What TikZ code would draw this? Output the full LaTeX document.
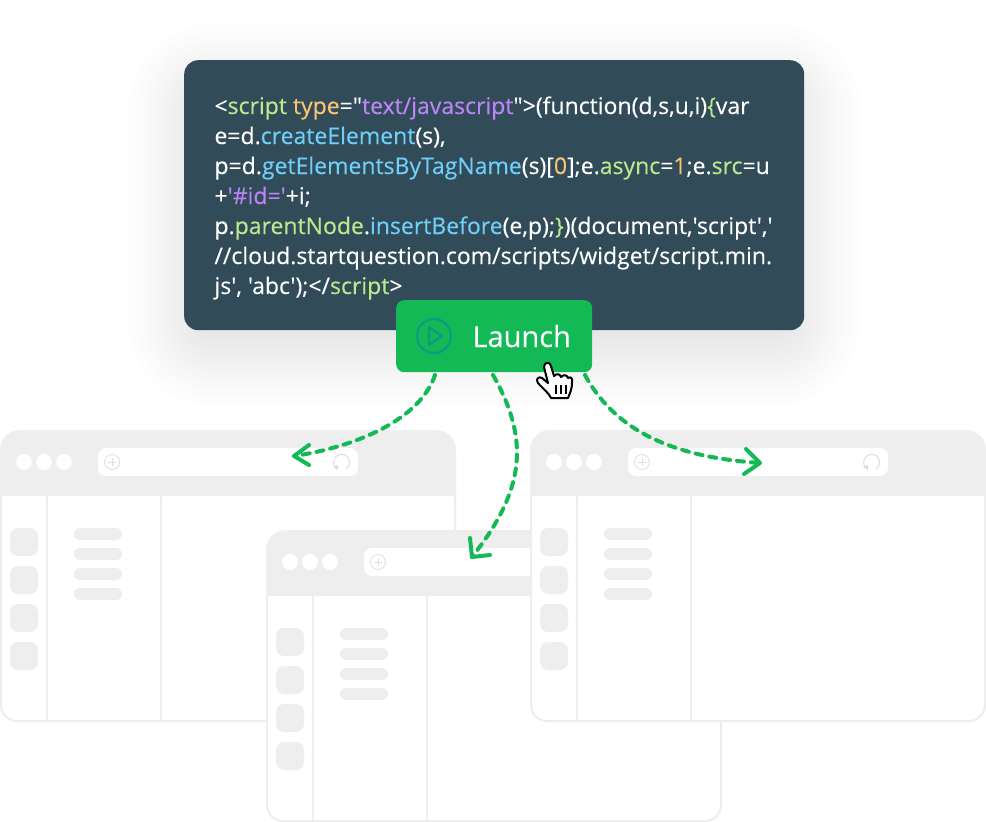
\documentclass[tikz,border=0pt]{standalone}
\usepackage{fontspec}
\setmainfont{Open Sans}
\newfontfamily\codefont[FakeBold=0.2]{Open Sans}
\usetikzlibrary{arrows.meta,calc}
\definecolor{panel}{HTML}{324B59}
\definecolor{gbtn}{HTML}{12B955}
\definecolor{ticon}{HTML}{0E9A82}
\definecolor{wgrey}{HTML}{EEEEEE}
\definecolor{iconline}{HTML}{DDDDDD}
\definecolor{cg}{HTML}{BBEA8E}
\definecolor{co}{HTML}{FBC472}
\definecolor{cp}{HTML}{BB85F5}
\definecolor{cb}{HTML}{70CFF8}
\tikzset{
  x=1pt,y=-1pt,
  code/.style={anchor=base west,inner sep=0pt,outer sep=0pt,text=white,font=\codefont\fontsize{23}{23}\selectfont},
  flow/.style={draw=gbtn,line width=4pt,dash pattern=on 7pt off 7pt,line cap=round},
  heads/.style={draw=gbtn,line width=4pt,line cap=round,line join=round},
  wline/.style={draw=wgrey,line width=2pt},
  wfill/.style={fill=wgrey,draw=none},
  lbl/.style={inner sep=0pt,outer sep=0pt}
}
\newcommand{\browser}[3]{% x, y, name
  \begin{scope}[shift={(#1,#2)}]
    \fill[white,rounded corners=18pt] (1,1) rectangle (455,291);
    \path[wfill,rounded corners=20pt] (0,66) -- (0,0) -- (456,0) -- (456,66);
    \path[wfill] (0,40) rectangle (456,66);
    \draw[wline,rounded corners=16pt] (1,60) -- (1,291) -- (455,291) -- (455,60);
    \draw[wline] (47,66) -- (47,291);
    \draw[wline] (161,66) -- (161,291);
    \foreach \dx in {24,44,64}{\fill[white] (\dx,32) circle[radius=8];}
    \fill[white,rounded corners=8pt] (98,18) rectangle (358,46);
    \draw[iconline,line width=.8pt] (112,32) circle[radius=7.5];
    \draw[iconline,line width=.9pt] (108,32) -- (116,32) (112,28) -- (112,36);
    \draw[iconline,line width=1pt] (336,38) arc[start angle=135,end angle=420,radius=8];
    \fill[iconline] (333,37) -- (338,35) -- (338,40) -- cycle;
    \foreach \dy in {98,136,174,212}{\path[wfill,rounded corners=8pt] (10,\dy) rectangle (38,\dy+28);}
    \foreach \dy in {98,118,138,158}{\path[wfill,rounded corners=6pt] (74,\dy) rectangle (122,\dy+12);}
  \end{scope}
}
\begin{document}
\begin{tikzpicture}
\useasboundingbox (0,0) rectangle (986,822);
\fill[white] (0,0) rectangle (986,822);
% soft shadow of the code panel
\foreach \g in {-20,-14,-8,-2,4,10,16,22,28,34,40,48,56}{
  \fill[black,opacity=0.009,rounded corners=30pt+\g*1pt] (184-\g,80-\g) rectangle (804+\g,350+\g);
}
% browser windows
\browser{0}{430}{a}
\browser{266}{530}{b}
\browser{530}{430}{c}
% code panel
\node[fill=panel,rounded corners=14pt,minimum width=620pt,minimum height=270pt,inner sep=0pt,anchor=north west] (panel) at (184,60) {};
\node[code] (l1) at (214.5,114) {<\textcolor{cg}{script} \textcolor{co}{type}="\textcolor{cp}{text/javascript}">(function(d,s,u,i)\textcolor{cg}{\{}var};
\node[code] (l2) at (214.5,144) {e=d.\textcolor{cb}{createElement}(s),};
\node[code] (l3) at (214.5,174) {p=d.\textcolor{cb}{getElementsByTagName}(s)[\textcolor{co}{0}];e.\textcolor{cg}{async}=\textcolor{co}{1};e.\textcolor{cg}{src}=u};
\node[code] (l4) at (214.5,204) {+\textcolor{cp}{'\#id='}+i;};
\node[code] (l5) at (214.5,234) {p.\textcolor{cg}{parentNode}.\textcolor{cb}{insertBefore}(e,p);\textcolor{cg}{\}})(document,'script','};
\node[code] (l6) at (214.5,264) {//cloud.startquestion.com/scripts/widget/script.min.};
\node[code] (l7) at (214.5,294) {js', 'abc');</\textcolor{cg}{script}>};
% button
\node[fill=gbtn,rounded corners=8pt,minimum width=196pt,minimum height=72pt,inner sep=0pt,anchor=north west] (btn) at (396,300) {};
\node[lbl,circle,draw=ticon,line width=2.2pt,minimum size=34pt] (play) at (434,336) {};
\draw[ticon,line width=2.2pt,line join=round] (429,327) -- (442,336) -- (429,345) -- cycle;
\node[lbl,anchor=base west,text=white,font=\codefont\fontsize{29}{29}\selectfont] (launch) at (472.5,347) {Launch};
% connector ends
\coordinate (s1) at (435,375);
\coordinate (e1) at (294,456);
\coordinate (s2) at (493,375);
\coordinate (e2) at (472,557);
\coordinate (s3) at (585,375);
\coordinate (e3) at (760,463);
\draw[flow] (s1) .. controls (420,420) and (355,447) .. (e1);
\draw[heads] (309,445) -- (e1) -- (309,465);
\draw[flow] (s2) .. controls (530,440) and (525,490) .. (e2);
\draw[heads] (470,538) -- (e2) -- (490,555);
\draw[flow] (s3) .. controls (620,440) and (690,458) .. (e3);
\draw[heads] (746,449) -- (e3) -- (744,474);
% hand cursor
\draw[black,fill=white,line width=2pt,line join=round]
  (544,367) .. controls (544,362) and (550,361) .. (551,366)
  -- (554,376) .. controls (557,373) and (560,374) .. (561,377)
  .. controls (564,374) and (567,375) .. (568,378)
  .. controls (571,376) and (573,379) .. (572,383)
  .. controls (572,389) and (570,393) .. (568,398)
  -- (551,398) .. controls (549,393) and (543,389) .. (538,383)
  .. controls (535,379) and (539,376) .. (542,378)
  -- (548,383) -- cycle;
\draw[black,line width=1.5pt] (556,385) -- (556,394) (561,385) -- (561,394) (566,385) -- (566,394);
\end{tikzpicture}
\end{document}
